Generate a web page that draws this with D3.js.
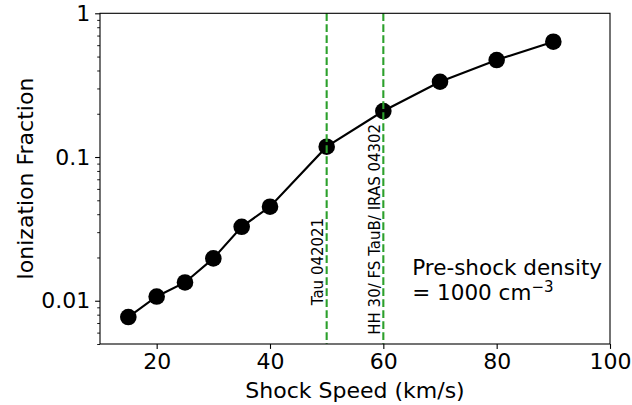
<!DOCTYPE html>
<html>
<head>
<meta charset="utf-8">
<script src="https://cdn.jsdelivr.net/npm/d3@7"></script>
<style>
  html, body { margin: 0; padding: 0; background: #fff; }
  svg { display: block; font-family: "DejaVu Sans", sans-serif; }
</style>
</head>
<body>
<svg id="chart" width="632" height="405"></svg>
<script>
// Shock speed (km/s) and resulting ionization fraction
const shockSpeed = [15, 20, 25, 30, 35, 40, 50, 60, 70, 80, 90];
const ionFraction = [0.0077, 0.0107, 0.0134, 0.0197, 0.0327, 0.0451, 0.118, 0.209, 0.334, 0.473, 0.634];

// Reference speeds for observed objects
const refSpeeds = [50, 60];
const refLabels = ["Tau 042021", "HH 30/ FS TauB/ IRAS 04302"];
const refLabelY = [0.0093, 0.0058];

const xTicks = [20, 40, 60, 80, 100];
const yTicks = [0.01, 0.1, 1];
const yTickLabels = ["0.01", "0.1", "1"];

const W = 632, H = 405;
const margin = { left: 100, right: 22, top: 13.3, bottom: 61 };
const iw = W - margin.left - margin.right;
const ih = H - margin.top - margin.bottom;

const svg = d3.select("#chart");
const g = svg.append("g").attr("transform", `translate(${margin.left},${margin.top})`);

const x = d3.scaleLinear().domain([10, 100]).range([0, iw]);
const y = d3.scaleLog().domain([0.005, 1]).range([ih, 0]);

// minor ticks on the log axis
const minorY = [];
for (const dec of [0.001, 0.01, 0.1]) {
  for (let k = 2; k <= 9; k++) {
    const v = +(k * dec).toPrecision(3);
    if (v >= 0.005 && v <= 1) minorY.push(v);
  }
}

const tickColor = "#000";
const tickW = 1.1;

// x axis
const xAxis = g.append("g").attr("transform", `translate(0,${ih})`)
  .call(d3.axisBottom(x).tickValues(xTicks).tickSize(4.9).tickPadding(4.9).tickFormat(d3.format("d")));
xAxis.select(".domain").remove();
xAxis.selectAll(".tick line").attr("stroke", tickColor).attr("stroke-width", tickW);
xAxis.selectAll(".tick text").attr("font-size", 22).attr("font-family", "DejaVu Sans").attr("fill", "#000");

// y axis, major
const yAxis = g.append("g")
  .call(d3.axisLeft(y).tickValues(yTicks).tickSize(4.9).tickPadding(4.9)
    .tickFormat((d, i) => yTickLabels[i]));
yAxis.select(".domain").remove();
yAxis.selectAll(".tick line").attr("stroke", tickColor).attr("stroke-width", tickW);
yAxis.selectAll(".tick text").attr("font-size", 22).attr("font-family", "DejaVu Sans").attr("fill", "#000");

// y axis, minor
const yMinor = g.append("g")
  .call(d3.axisLeft(y).tickValues(minorY).tickSize(2.8).tickFormat(""));
yMinor.select(".domain").remove();
yMinor.selectAll(".tick line").attr("stroke", tickColor).attr("stroke-width", 0.9);

// data line and markers
const line = d3.line().x((d, i) => x(shockSpeed[i])).y(d => y(d));
g.append("path")
  .datum(ionFraction)
  .attr("d", line)
  .attr("fill", "none")
  .attr("stroke", "#000")
  .attr("stroke-width", 2.1);

g.selectAll("circle.pt")
  .data(ionFraction)
  .enter().append("circle")
  .attr("class", "pt")
  .attr("cx", (d, i) => x(shockSpeed[i]))
  .attr("cy", d => y(d))
  .attr("r", 8.3)
  .attr("fill", "#000");

// reference speed markers
g.selectAll("line.ref")
  .data(refSpeeds)
  .enter().append("line")
  .attr("class", "ref")
  .attr("x1", d => x(d)).attr("x2", d => x(d))
  .attr("y1", 0).attr("y2", ih)
  .attr("stroke", "#2ca02c")
  .attr("stroke-width", 2.1)
  .attr("stroke-dasharray", "7.7,3.3");

g.selectAll("text.ref")
  .data(refSpeeds)
  .enter().append("text")
  .attr("class", "ref")
  .attr("transform", (d, i) => `translate(${x(d) - 3.4},${y(refLabelY[i])}) rotate(-90)`)
  .attr("font-size", 15)
  .attr("fill", "#000")
  .text((d, i) => refLabels[i]);

// frame
g.append("rect")
  .attr("x", 0).attr("y", 0).attr("width", iw).attr("height", ih)
  .attr("fill", "none").attr("stroke", "#000").attr("stroke-width", 1.1);

// annotation (two lines, with a superscript exponent)
const noteX = x(65.1);
const note1 = g.append("text")
  .attr("x", noteX).attr("y", 261.7)
  .attr("font-size", 21.5)
  .attr("fill", "#000")
  .text("Pre-shock density");
const note2 = g.append("text")
  .attr("x", noteX).attr("y", 286.7)
  .attr("font-size", 21.5)
  .attr("fill", "#000");
note2.append("tspan").text("= 1000 cm");
note2.append("tspan").attr("dy", -8).attr("font-size", 15).text("\u22123");

// axis titles
svg.append("text")
  .attr("x", margin.left + iw / 2)
  .attr("y", 398)
  .attr("text-anchor", "middle")
  .attr("font-size", 22)
  .attr("fill", "#000")
  .text("Shock Speed (km/s)");

svg.append("text")
  .attr("transform", `translate(32.5,${margin.top + ih / 2}) rotate(-90)`)
  .attr("text-anchor", "middle")
  .attr("font-size", 22)
  .attr("fill", "#000")
  .text("Ionization Fraction");
</script>
</body>
</html>
